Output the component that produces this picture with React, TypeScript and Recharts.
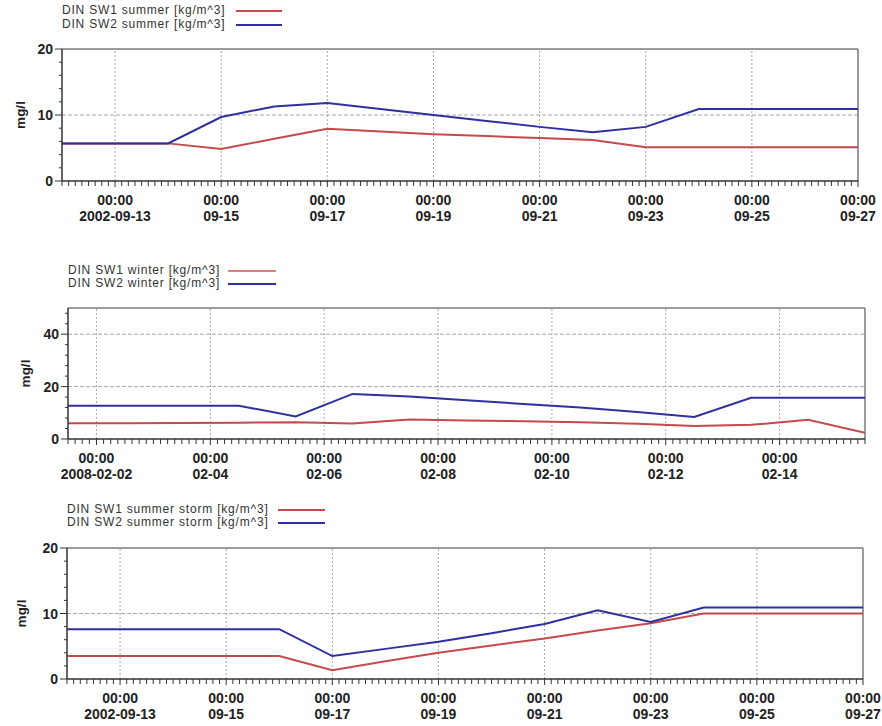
import React from 'react';
import { LineChart, Line, XAxis, YAxis, ReferenceLine } from 'recharts';

const FONT = '"Liberation Sans", Arial, Helvetica, sans-serif';
const HOUR = 3600000;
const RED = '#c44a4c';
const RED_LIGHT = '#e07a7c';
const BLUE = '#2f2f9f';
const GRID = '#a3aaaa';
const BORDER = '#7a7a7a';
const AXIS = '#333333';

// ---------- Panel 1: summer ----------
const summerTimes = [
  '2002-09-12', '2002-09-13', '2002-09-14', '2002-09-15', '2002-09-16', '2002-09-17',
  '2002-09-18', '2002-09-19', '2002-09-20', '2002-09-21', '2002-09-22', '2002-09-23',
  '2002-09-24', '2002-09-25', '2002-09-26', '2002-09-27',
];
const summerSW1 = [5.7, 5.7, 5.7, 4.85, 6.4, 7.9, 7.5, 7.1, 6.8, 6.5, 6.2, 5.1, 5.1, 5.1, 5.1, 5.1];
const summerSW2 = [5.7, 5.7, 5.7, 9.7, 11.3, 11.8, 10.9, 10.0, 9.1, 8.2, 7.4, 8.2, 10.9, 10.9, 10.9, 10.9];
const summerTickDates = ['2002-09-13', '2002-09-15', '2002-09-17', '2002-09-19', '2002-09-21', '2002-09-23', '2002-09-25', '2002-09-27'];
const summerTickLabels = ['2002-09-13', '09-15', '09-17', '09-19', '09-21', '09-23', '09-25', '09-27'];
const summerNames: [string, string] = ['DIN SW1 summer [kg/m^3]', 'DIN SW2 summer [kg/m^3]'];

// ---------- Panel 2: winter ----------
const winterTimes = [
  '2008-02-01T12:00', '2008-02-02T12:00', '2008-02-03T12:00', '2008-02-04T12:00', '2008-02-05T12:00',
  '2008-02-06T12:00', '2008-02-07T12:00', '2008-02-08T12:00', '2008-02-09T12:00', '2008-02-10T12:00',
  '2008-02-11T12:00', '2008-02-12T12:00', '2008-02-13T12:00', '2008-02-14T12:00', '2008-02-15T12:00',
];
const winterSW1 = [6.0, 6.0, 6.1, 6.2, 6.4, 5.9, 7.4, 7.1, 6.8, 6.4, 5.8, 5.0, 5.4, 7.3, 2.4];
const winterSW2 = [12.7, 12.7, 12.7, 12.7, 8.6, 17.2, 16.2, 14.8, 13.4, 12.0, 10.3, 8.4, 15.7, 15.7, 15.7];
const winterTickDates = ['2008-02-02', '2008-02-04', '2008-02-06', '2008-02-08', '2008-02-10', '2008-02-12', '2008-02-14'];
const winterTickLabels = ['2008-02-02', '02-04', '02-06', '02-08', '02-10', '02-12', '02-14'];
const winterNames: [string, string] = ['DIN SW1 winter [kg/m^3]', 'DIN SW2 winter [kg/m^3]'];

// ---------- Panel 3: summer storm ----------
const stormTimes = summerTimes;
const stormSW1 = [3.5, 3.5, 3.5, 3.5, 3.5, 1.35, 2.7, 4.0, 5.1, 6.2, 7.4, 8.5, 10.0, 10.0, 10.0, 10.0];
const stormSW2 = [7.6, 7.6, 7.6, 7.6, 7.6, 3.5, 4.6, 5.7, 7.0, 8.4, 10.5, 8.7, 10.9, 10.9, 10.9, 10.9];
const stormTickDates = summerTickDates;
const stormTickLabels = summerTickLabels;
const stormNames: [string, string] = ['DIN SW1 summer storm [kg/m^3]', 'DIN SW2 summer storm [kg/m^3]'];

const ts = (s: string) => Date.parse(s.length === 10 ? s + 'T00:00:00Z' : s + ':00Z');

const buildData = (times: string[], a: number[], b: number[]) =>
  times.map((t, i) => ({ t: ts(t), sw1: a[i], sw2: b[i] }));

const minorTicks = (start: number, end: number) => {
  const out: number[] = [];
  const first = Math.ceil(start / (3 * HOUR)) * 3 * HOUR;
  for (let v = first; v <= end + 1; v += 3 * HOUR) out.push(v);
  return out;
};

type PanelProps = {
  top: number;
  plot: { left: number; right: number; top: number; bottom: number };
  data: { t: number; sw1: number; sw2: number }[];
  xDomain: [number, number];
  majorX: number[];
  majorLabels: string[];
  yMax: number;
  yStep: number;
  yMajors: number[];
  yGrid: number[];
  labelX: number;
  names: [string, string];
  legend: { textX: number; lineX1: number; lineX2: number; rows: [number, number] };
  sw1Legend: string;
};

function YLabelWrap(props: any) {
  const R = props.render;
  return <R {...props} />;
}

function Panel(p: PanelProps) {
  const height = p.plot.bottom - p.top + 50;
  const xTicks = minorTicks(p.xDomain[0], p.xDomain[1]);
  const yTicks: number[] = [];
  for (let v = 0; v <= p.yMax + 1e-9; v += p.yStep) yTicks.push(Math.round(v * 1000) / 1000);
  const labelMap = new Map<number, string>();
  p.majorX.forEach((v, i) => labelMap.set(v, p.majorLabels[i]));

  const XTick = (props: any) => {
    const { x, y, payload } = props;
    const lab = labelMap.get(payload.value);
    return (
      <g>
        <line x1={x} x2={x} y1={y} y2={y + (lab !== undefined ? 6 : 5)} stroke={AXIS} strokeWidth={1} />
        {lab !== undefined && (
          <>
            <text x={x} y={y + 24} textAnchor="middle" fontFamily={FONT} fontSize={14} fontWeight="bold" fill="#222">
              00:00
            </text>
            <text x={x} y={y + 40} textAnchor="middle" fontFamily={FONT} fontSize={14} fontWeight="bold" fill="#222">
              {lab}
            </text>
          </>
        )}
      </g>
    );
  };

  const YTick = (props: any) => {
    const { x, y, payload } = props;
    const major = p.yMajors.includes(payload.value);
    return (
      <g>
        <line x1={x - (major ? 7 : 3)} x2={x} y1={y} y2={y} stroke={AXIS} strokeWidth={1} />
        {major && (
          <text x={x - 9} y={y + 5} textAnchor="end" fontFamily={FONT} fontSize={14} fontWeight="bold" fill="#222">
            {payload.value}
          </text>
        )}
      </g>
    );
  };

  const YLabel = (props: any) => {
    const vb = props.viewBox || {};
    const cy = (vb.y ?? 0) + (vb.height ?? 0) / 2;
    return (
      <text
        transform={`translate(${p.labelX},${cy}) rotate(-90)`}
        textAnchor="middle"
        dominantBaseline="central"
        fontFamily={FONT}
        fontSize={13.5}
        fontWeight="bold"
        fill="#222"
      >
        mg/l
      </text>
    );
  };

  const lg = p.legend;
  return (
    <div style={{ position: 'absolute', left: 0, top: p.top, width: 882, height }}>
      <svg
        width={882}
        height={40}
        style={{ position: 'absolute', left: 0, top: lg.rows[0] - p.top - 12, overflow: 'visible' }}
      >
        {[0, 1].map((i) => {
          const cy = lg.rows[i] - (lg.rows[0] - 12);
          return (
            <g key={i}>
              <text
                x={lg.textX}
                y={cy + 4.2}
                fontFamily={FONT}
                fontSize={12}
                letterSpacing={0.8}
                fill="#333"
              >
                {p.names[i]}
              </text>
              <line
                x1={lg.lineX1}
                x2={lg.lineX2}
                y1={cy + 1}
                y2={cy + 1}
                stroke={i === 0 ? p.sw1Legend : BLUE}
                strokeWidth={2}
              />
            </g>
          );
        })}
      </svg>
      <div style={{ position: 'absolute', left: 0, top: 0 }}>
        <LineChart
          width={882}
          height={height}
          data={p.data}
          margin={{ top: p.plot.top - p.top, left: 0, right: 882 - p.plot.right, bottom: 0 }}
        >
          <XAxis
            dataKey="t"
            type="number"
            domain={p.xDomain}
            allowDataOverflow
            ticks={xTicks}
            interval={0}
            tick={XTick}
            tickLine={false}
            tickSize={0}
            tickMargin={0}
            height={50}
            axisLine={{ stroke: AXIS, strokeWidth: 1.5 }}
          />
          <YAxis
            type="number"
            domain={[0, p.yMax]}
            allowDataOverflow
            ticks={yTicks}
            interval={0}
            tick={YTick}
            tickLine={false}
            tickSize={0}
            tickMargin={0}
            width={p.plot.left}
            axisLine={{ stroke: AXIS, strokeWidth: 1.5 }}
            label={<YLabelWrap render={YLabel} />}
          />
          {p.majorX
            .filter((v) => v < p.xDomain[1])
            .map((v) => (
              <ReferenceLine key={'vx' + v} x={v} stroke={GRID} strokeDasharray="2 2" strokeWidth={1} />
            ))}
          {p.yGrid.map((v) => (
            <ReferenceLine key={'hy' + v} y={v} stroke={GRID} strokeDasharray="4 2" strokeWidth={1} />
          ))}
          <ReferenceLine y={p.yMax} stroke={BORDER} strokeWidth={1.5} />
          <ReferenceLine x={p.xDomain[1]} stroke={BORDER} strokeWidth={1.5} />
          <Line
            dataKey="sw1"
            type="linear"
            stroke={RED}
            strokeWidth={2}
            dot={false}
            activeDot={false}
            isAnimationActive={false}
          />
          <Line
            dataKey="sw2"
            type="linear"
            stroke={BLUE}
            strokeWidth={2}
            dot={false}
            activeDot={false}
            isAnimationActive={false}
          />
        </LineChart>
      </div>
    </div>
  );
}

export default function App() {
  const summerData = buildData(summerTimes, summerSW1, summerSW2);
  const winterData = buildData(winterTimes, winterSW1, winterSW2);
  const stormData = buildData(stormTimes, stormSW1, stormSW2);

  return (
    <div style={{ position: 'absolute', left: 0, top: 0, width: 882, height: 726, background: '#fff', overflow: 'hidden' }}>
      <Panel
        top={0}
        plot={{ left: 62, right: 858, top: 49, bottom: 181 }}
        data={summerData}
        xDomain={[ts('2002-09-12'), ts('2002-09-27')]}
        majorX={summerTickDates.map(ts)}
        majorLabels={summerTickLabels}
        yMax={20}
        yStep={2}
        yMajors={[0, 10, 20]}
        yGrid={[10]}
        labelX={20}
        names={summerNames}
        legend={{ textX: 62, lineX1: 236, lineX2: 282, rows: [10, 24] }}
        sw1Legend={RED}
      />
      <Panel
        top={255}
        plot={{ left: 68, right: 865, top: 308, bottom: 439 }}
        data={winterData}
        xDomain={[ts('2008-02-01T12:00'), ts('2008-02-15T12:00')]}
        majorX={winterTickDates.map(ts)}
        majorLabels={winterTickLabels}
        yMax={50}
        yStep={4}
        yMajors={[0, 20, 40]}
        yGrid={[20, 40]}
        labelX={25}
        names={winterNames}
        legend={{ textX: 68, lineX1: 228, lineX2: 276, rows: [270, 283] }}
        sw1Legend={RED_LIGHT}
      />
      <Panel
        top={495}
        plot={{ left: 67, right: 863, top: 548, bottom: 679 }}
        data={stormData}
        xDomain={[ts('2002-09-12'), ts('2002-09-27')]}
        majorX={stormTickDates.map(ts)}
        majorLabels={stormTickLabels}
        yMax={20}
        yStep={2}
        yMajors={[0, 10, 20]}
        yGrid={[10]}
        labelX={21}
        names={stormNames}
        legend={{ textX: 67, lineX1: 278, lineX2: 325, rows: [509, 522] }}
        sw1Legend={RED}
      />
    </div>
  );
}
